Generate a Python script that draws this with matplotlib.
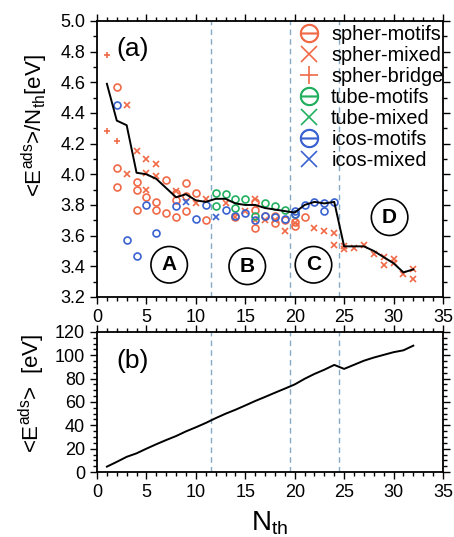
import matplotlib
matplotlib.use("Agg")
import matplotlib.pyplot as plt
from matplotlib.lines import Line2D
from matplotlib.ticker import MultipleLocator

plt.rcParams['font.family'] = ['Liberation Sans', 'DejaVu Sans']
plt.rcParams['mathtext.fontset'] = 'custom'
plt.rcParams['mathtext.rm'] = 'Liberation Sans'
plt.rcParams['mathtext.it'] = 'Liberation Sans:italic'

# ---- data ----
n_line = list(range(1, 33))
e_line = [4.59, 4.35, 4.32, 4.01, 4.00, 3.97, 3.91, 3.85, 3.87, 3.83, 3.82, 3.84,
          3.84, 3.81, 3.80, 3.80, 3.78, 3.77, 3.76, 3.75, 3.80, 3.82, 3.81, 3.82,
          3.53, 3.53, 3.53, 3.50, 3.46, 3.42, 3.36, 3.38]
e_total = [4.6, 8.7, 13.0, 16.0, 20.0, 23.8, 27.4, 30.8, 34.8, 38.3, 42.0, 46.1,
           49.9, 53.3, 57.0, 60.8, 64.3, 67.9, 71.4, 75.0, 79.8, 84.0, 87.6, 91.7,
           88.3, 91.8, 95.3, 98.0, 100.3, 102.6, 104.2, 108.2]

spher_motifs_n = [2, 2, 2, 4, 4, 4, 5, 6, 6, 7, 7, 8, 8, 8, 9, 9, 9, 10, 11,
                  14, 16, 16, 16, 17, 18, 18, 19, 20, 20, 21]
spher_motifs_e = [4.57, 4.04, 3.92, 3.95, 3.90, 3.77, 3.85, 3.82, 3.77, 3.96, 3.75,
                  3.88, 3.83, 3.72, 3.94, 3.86, 3.76, 3.88, 3.70,
                  3.72, 3.82, 3.77, 3.65, 3.73, 3.68, 3.73, 3.70, 3.66, 3.69, 3.72]

spher_mixed_n = [3, 3, 4, 5, 5, 5, 6, 6, 8, 10, 11, 13, 14, 15, 16, 16, 17, 18, 19,
                 20, 22, 23, 24, 24, 25, 25, 26, 27, 28, 29, 29, 30, 30, 31, 32, 32]
spher_mixed_e = [4.45, 4.00, 4.15, 4.10, 4.01, 3.90, 4.07, 3.99, 3.89, 3.81, 3.84,
                 3.81, 3.72, 3.76, 3.84, 3.70, 3.70, 3.70, 3.63, 3.68, 3.65, 3.63,
                 3.62, 3.54, 3.51, 3.53, 3.52, 3.54, 3.48, 3.46, 3.41, 3.45, 3.42,
                 3.35, 3.38, 3.32]

spher_bridge_n = [1, 1, 2]
spher_bridge_e = [4.78, 4.28, 4.22]

tube_motifs_n = [12, 12, 13, 14, 14, 15, 16, 17, 18, 19, 20]
tube_motifs_e = [3.88, 3.79, 3.87, 3.84, 3.78, 3.84, 3.73, 3.81, 3.79, 3.77, 3.74]

tube_mixed_n = []
tube_mixed_e = []

icos_motifs_n = [2, 3, 4, 5, 6, 7, 8, 10, 11, 13, 14, 15, 16, 17, 18, 19, 20, 20,
                 21, 22, 23, 23, 24]
icos_motifs_e = [4.45, 3.57, 3.47, 3.80, 3.62, 3.41, 3.79, 3.71, 3.80, 3.77, 3.73,
                 3.75, 3.70, 3.73, 3.72, 3.71, 3.76, 3.74, 3.80, 3.82, 3.81, 3.76, 3.82]

icos_mixed_n = [9, 12]
icos_mixed_e = [3.82, 3.72]

regions = ['A', 'B', 'C', 'D']
region_x = [7.3, 15.2, 21.9, 29.6]
region_y = [3.41, 3.40, 3.41, 3.72]
boundaries = [11.5, 19.5, 24.5]

ORANGE = '#f06a48'
GREEN = '#22b060'
BLUE = '#3a62d0'
DASH = '#86aac6'

fig = plt.figure(figsize=(4.54, 5.37), dpi=100)
ax1 = fig.add_axes([0.2137, 0.447, 0.762, 0.514])
ax2 = fig.add_axes([0.2137, 0.121, 0.762, 0.261])

ms = 5
mew = 1.2
ax1.plot(spher_motifs_n, spher_motifs_e, 'o', mfc='none', mec=ORANGE, ms=ms, mew=mew)
ax1.plot(spher_mixed_n, spher_mixed_e, 'x', color=ORANGE, ms=ms, mew=mew)
ax1.plot(spher_bridge_n, spher_bridge_e, '+', color=ORANGE, ms=ms, mew=mew)
ax1.plot(tube_motifs_n, tube_motifs_e, 'o', mfc='none', mec=GREEN, ms=ms, mew=mew)
ax1.plot(tube_mixed_n, tube_mixed_e, 'x', color=GREEN, ms=ms, mew=mew)
ax1.plot(icos_motifs_n, icos_motifs_e, 'o', mfc='none', mec=BLUE, ms=ms, mew=mew)
ax1.plot(icos_mixed_n, icos_mixed_e, 'x', color=BLUE, ms=ms, mew=mew)
ax1.plot(n_line, e_line, '-', color='black', lw=1.4)

ax2.plot(n_line, e_total, '-', color='black', lw=1.4)

for ax in (ax1, ax2):
    for b in boundaries:
        ax.axvline(b, color=DASH, ls=(0, (4, 3)), lw=1.0, zorder=0)
    ax.set_xlim(0, 35)
    ax.xaxis.set_major_locator(MultipleLocator(5))
    ax.xaxis.set_minor_locator(MultipleLocator(1))
    ax.tick_params(which='both', direction='out', top=True, right=True,
                   labelsize=13, width=1.0, colors='black')
    ax.tick_params(which='major', length=5)
    ax.tick_params(which='minor', length=3)
    for s in ax.spines.values():
        s.set_linewidth(1.3)

ax1.set_ylim(3.2, 5.0)
ax1.yaxis.set_major_locator(MultipleLocator(0.2))
ax1.yaxis.set_minor_locator(MultipleLocator(0.1))
ax1.yaxis.set_major_formatter(matplotlib.ticker.FormatStrFormatter('%.1f'))

ax2.set_ylim(0, 120)
ax2.yaxis.set_major_locator(MultipleLocator(20))
ax2.yaxis.set_minor_locator(MultipleLocator(5))

for lab, x, y in zip(regions, region_x, region_y):
    ax1.text(x, y, lab, ha='center', va='center', fontsize=15, fontweight='bold',
             bbox=dict(boxstyle='circle,pad=0.42', fc='white', ec='black', lw=1.2),
             zorder=5)

ax1.text(0.055, 0.90, '(a)', transform=ax1.transAxes, fontsize=19, va='center')
ax2.text(0.055, 0.79, '(b)', transform=ax2.transAxes, fontsize=19, va='center')

handles = [
    Line2D([], [], ls='none', marker=r'$\ominus$', color=ORANGE, ms=13),
    Line2D([], [], ls='none', marker='x', color=ORANGE, ms=11, mew=1.2),
    Line2D([], [], ls='none', marker='+', color=ORANGE, ms=13, mew=1.2),
    Line2D([], [], ls='none', marker=r'$\ominus$', color=GREEN, ms=13),
    Line2D([], [], ls='none', marker='x', color=GREEN, ms=11, mew=1.2),
    Line2D([], [], ls='none', marker=r'$\ominus$', color=BLUE, ms=13),
    Line2D([], [], ls='none', marker='x', color=BLUE, ms=11, mew=1.2),
]
labels = ['spher-motifs', 'spher-mixed', 'spher-bridge', 'tube-motifs',
          'tube-mixed', 'icos-motifs', 'icos-mixed']
ax1.legend(handles, labels, loc='upper right', frameon=False, fontsize=14.3,
           handlelength=1.0, handletextpad=0.6, labelspacing=0.1,
           borderaxespad=0.1, bbox_to_anchor=(1.03, 1.02))

ax1.set_ylabel(r'<E$^{\rm ads}$>/N$_{\rm th}$[eV]', fontsize=16)
ax1.yaxis.set_label_coords(-0.135, 0.62)
ax2.set_ylabel(r'<E$^{\rm ads}$>  [eV]', fontsize=16)
ax2.yaxis.set_label_coords(-0.145, 0.56)
ax2.set_xlabel(r'N$_{\rm th}$', fontsize=20, labelpad=6)

fig.savefig('out.png', dpi=100)
